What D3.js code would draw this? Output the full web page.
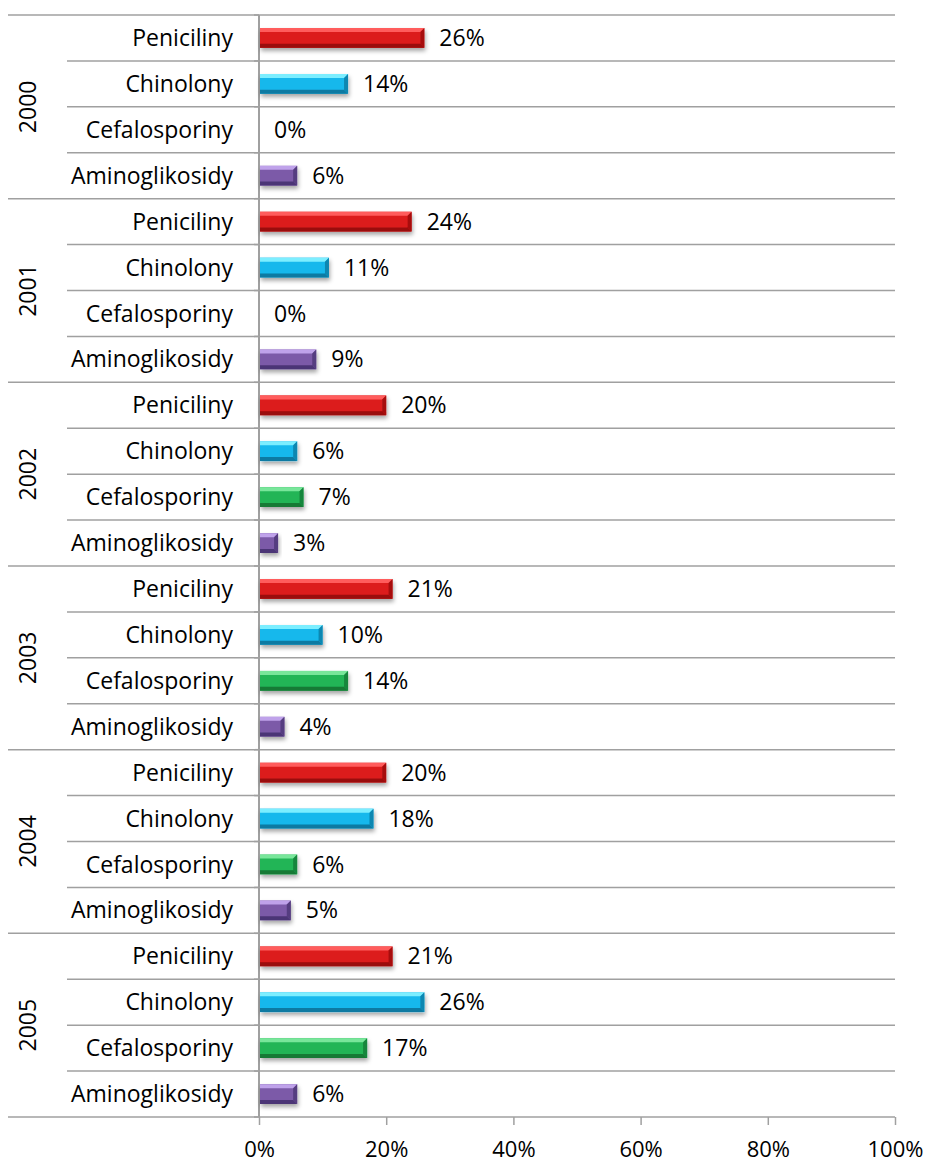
<!DOCTYPE html>
<html>
<head>
<meta charset="utf-8">
<script src="https://cdn.jsdelivr.net/npm/d3@7"></script>
<style>
  body { margin: 0; background: #fff; }
  text { font-family: "Open Sans", "Noto Sans", sans-serif; fill: #000; }
</style>
</head>
<body>
<div id="chart"></div>
<script>
// Chart data
const years = ["2000", "2001", "2002", "2003", "2004", "2005"];
const categories = ["Peniciliny", "Chinolony", "Cefalosporiny", "Aminoglikosidy"];
const values = {
  "2000": [0.26, 0.14, 0.00, 0.06],
  "2001": [0.24, 0.11, 0.00, 0.09],
  "2002": [0.20, 0.06, 0.07, 0.03],
  "2003": [0.21, 0.10, 0.14, 0.04],
  "2004": [0.20, 0.18, 0.06, 0.05],
  "2005": [0.21, 0.26, 0.17, 0.06]
};
const xTicks = [0, 0.2, 0.4, 0.6, 0.8, 1];
const catColors = {
  Peniciliny: { base: "#dc1c1c", light: "#ff5c5c", dark: "#9a0c0c" },
  Chinolony: { base: "#16b8ec", light: "#7ceeff", dark: "#0a7aa2" },
  Cefalosporiny: { base: "#22b556", light: "#78e69a", dark: "#137a36" },
  Aminoglikosidy: { base: "#7b5aa8", light: "#bfa2ea", dark: "#4c3676" }
};

const width = 928, height = 1162;
const margin = { top: 15, right: 33, bottom: 45, left: 259 };
const fontSize = "23px";

const rows = [];
years.forEach(y => categories.forEach((c, i) => rows.push({ year: y, cat: c, value: values[y][i], idx: i })));

const svg = d3.select("#chart").append("svg")
  .attr("width", width).attr("height", height);

const defs = svg.append("defs");
const shadow = defs.append("filter").attr("id", "shadow")
  .attr("x", "-10%").attr("y", "-30%").attr("width", "130%").attr("height", "200%");
shadow.append("feDropShadow").attr("dx", 1).attr("dy", 3).attr("stdDeviation", 2)
  .attr("flood-color", "#000").attr("flood-opacity", 0.35);

const x = d3.scaleLinear().domain([0, 1]).range([margin.left, width - margin.right]);
const y = d3.scaleBand().domain(rows.map(d => d.year + "|" + d.cat))
  .range([margin.top, height - margin.bottom]);
const band = y.bandwidth();
const barH = band * 0.43;

const gridColor = "#a0a0a0";

// horizontal row separators
const grid = svg.append("g");
rows.forEach(d => {
  const yy = y(d.year + "|" + d.cat);
  grid.append("line")
    .attr("x1", d.idx === 0 ? 8 : 67).attr("x2", x(1))
    .attr("y1", yy).attr("y2", yy)
    .attr("stroke", gridColor).attr("stroke-width", 1.5);
});
const yEnd = height - margin.bottom;
grid.append("line").attr("x1", 8).attr("x2", x(1)).attr("y1", yEnd).attr("y2", yEnd)
  .attr("stroke", gridColor).attr("stroke-width", 1.5);

// small ticks left of the axis at each row boundary
rows.concat([null]).forEach(d => {
  const yy = d ? y(d.year + "|" + d.cat) : yEnd;
  grid.append("line").attr("x1", x(0) - 5).attr("x2", x(0)).attr("y1", yy).attr("y2", yy)
    .attr("stroke", gridColor).attr("stroke-width", 1.5);
});

// x axis
const xAxis = svg.append("g")
  .attr("transform", `translate(0,${yEnd})`)
  .call(d3.axisBottom(x).tickValues(xTicks).tickFormat(d3.format(".0%")).tickSize(8).tickPadding(16));
xAxis.select(".domain").remove();
xAxis.selectAll("line").attr("stroke", gridColor).attr("stroke-width", 1.5);
xAxis.selectAll("text").style("font-size", "22px").attr("fill", "#000");

// y axis line
svg.append("line").attr("x1", x(0)).attr("x2", x(0))
  .attr("y1", margin.top).attr("y2", yEnd)
  .attr("stroke", gridColor).attr("stroke-width", 2);

// category labels
svg.append("g").selectAll("text").data(rows).join("text")
  .attr("x", 233)
  .attr("y", d => y(d.year + "|" + d.cat) + band / 2)
  .attr("dy", "0.35em")
  .attr("text-anchor", "end")
  .style("font-size", fontSize)
  .text(d => d.cat);

// year labels
svg.append("g").selectAll("text").data(years).join("text")
  .attr("transform", d => {
    const y0 = y(d + "|" + categories[0]);
    const y1 = y(d + "|" + categories[3]) + band;
    return `translate(28,${(y0 + y1) / 2}) rotate(-90)`;
  })
  .attr("dy", "0.35em")
  .attr("text-anchor", "middle")
  .style("font-size", fontSize)
  .text(d => d);

// bars with bevel
const bars = svg.append("g").selectAll("g").data(rows.filter(d => d.value > 0)).join("g")
  .attr("filter", "url(#shadow)");
const bv = 4;
bars.each(function (d) {
  const g = d3.select(this);
  const c = catColors[d.cat];
  const x0 = x(0) + 1, x1 = x(d.value);
  const y0 = y(d.year + "|" + d.cat) + (band - barH) / 2, y1 = y0 + barH;
  g.append("rect").attr("x", x0).attr("y", y0).attr("width", x1 - x0).attr("height", barH)
    .attr("fill", c.base);
  // top facet
  g.append("path").attr("d", `M${x0},${y0}L${x1},${y0}L${x1 - bv},${y0 + bv}L${x0},${y0 + bv}Z`)
    .attr("fill", c.light);
  // bottom facet
  g.append("path").attr("d", `M${x0},${y1}L${x1},${y1}L${x1 - bv},${y1 - bv}L${x0},${y1 - bv}Z`)
    .attr("fill", c.dark);
  // right facet
  g.append("path").attr("d", `M${x1},${y0}L${x1},${y1}L${x1 - bv},${y1 - bv}L${x1 - bv},${y0 + bv}Z`)
    .attr("fill", c.dark).attr("opacity", 0.8);
});

// value labels
svg.append("g").selectAll("text").data(rows).join("text")
  .attr("x", d => x(d.value) + 15)
  .attr("y", d => y(d.year + "|" + d.cat) + band / 2)
  .attr("dy", "0.35em")
  .style("font-size", fontSize)
  .text(d => d3.format(".0%")(d.value));
</script>
</body>
</html>
